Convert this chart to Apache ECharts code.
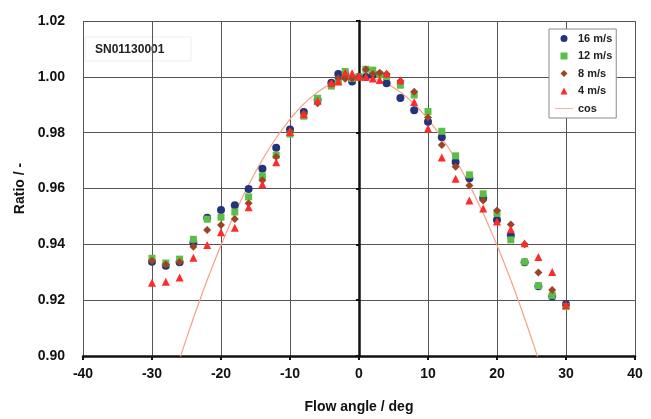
<!DOCTYPE html>
<html>
<head>
<meta charset="utf-8">
<script src="https://cdn.jsdelivr.net/npm/echarts@6/dist/echarts.min.js"></script>
<style>
    html, body { margin: 0; padding: 0; background: #fff; }
    #chart { width: 651px; height: 419px; }
</style>
</head>
<body>
<div id="chart"></div>
<script>
const angles = [-30, -28, -26, -24, -22, -20, -18, -16, -14, -12, -10, -8, -6, -4, -3, -2, -1, 0, 1, 2, 3, 4, 6, 8, 10, 12, 14, 16, 18, 20, 22, 24, 26, 28, 30];

const v16 = [0.9338, 0.9323, 0.9336, 0.9406, 0.9495, 0.9523, 0.9540, 0.9598, 0.9671, 0.9746, 0.9811, 0.9874, 0.9918, 0.9979, 1.0010, 1.0012, 0.9983, 1.0000, 0.9999, 1.0007, 1.0008, 0.9977, 0.9924, 0.9880, 0.9839, 0.9784, 0.9695, 0.9637, 0.9566, 0.9487, 0.9432, 0.9336, 0.9250, 0.9213, 0.9185];
const v12 = [0.9350, 0.9333, 0.9347, 0.9418, 0.9490, 0.9497, 0.9516, 0.9570, 0.9645, 0.9719, 0.9795, 0.9859, 0.9923, 0.9967, 0.9984, 1.0019, 0.9994, 1.0000, 1.0027, 1.0024, 1.0008, 1.0001, 0.9970, 0.9935, 0.9876, 0.9805, 0.9717, 0.9649, 0.9581, 0.9511, 0.9416, 0.9337, 0.9252, 0.9217, 0.9177];
const v8 = [0.9341, 0.9328, 0.9337, 0.9391, 0.9451, 0.9469, 0.9491, 0.9547, 0.9630, 0.9714, 0.9804, 0.9868, 0.9905, 0.9975, 0.9995, 0.9993, 0.9994, 1.0000, 1.0026, 1.0010, 1.0015, 1.0010, 0.9985, 0.9947, 0.9854, 0.9756, 0.9678, 0.9611, 0.9557, 0.9521, 0.9471, 0.9400, 0.9299, 0.9236, 0.9182];
const v4 = [0.9262, 0.9266, 0.9281, 0.9352, 0.9398, 0.9443, 0.9459, 0.9533, 0.9615, 0.9694, 0.9802, 0.9866, 0.9914, 0.9978, 0.9983, 1.0015, 1.0013, 1.0000, 1.0000, 0.9994, 0.9989, 1.0012, 0.9988, 0.9910, 0.9815, 0.9711, 0.9635, 0.9557, 0.9528, 0.9482, 0.9454, 0.9404, 0.9355, 0.9301, 0.9183];

// reference cos curve, tabulated every degree
const cosAngles = [-26, -25, -24, -23, -22, -21, -20, -19, -18, -17, -16, -15, -14, -13, -12, -11, -10, -9, -8, -7, -6, -5, -4, -3, -2, -1, 0, 1, 2, 3, 4, 5, 6, 7, 8, 9, 10, 11, 12, 13, 14, 15, 16, 17, 18, 19, 20, 21, 22, 23, 24, 25, 26];
const cosValues = [0.8988, 0.9063, 0.9135, 0.9205, 0.9272, 0.9336, 0.9397, 0.9455, 0.9511, 0.9563, 0.9613, 0.9659, 0.9703, 0.9744, 0.9781, 0.9816, 0.9848, 0.9877, 0.9903, 0.9925, 0.9945, 0.9962, 0.9976, 0.9986, 0.9994, 0.9998, 1.0000, 0.9998, 0.9994, 0.9986, 0.9976, 0.9962, 0.9945, 0.9925, 0.9903, 0.9877, 0.9848, 0.9816, 0.9781, 0.9744, 0.9703, 0.9659, 0.9613, 0.9563, 0.9511, 0.9455, 0.9397, 0.9336, 0.9272, 0.9205, 0.9135, 0.9063, 0.8988];

const xTicks = [-40, -30, -20, -10, 0, 10, 20, 30, 40];
const yTicks = [0.90, 0.92, 0.94, 0.96, 0.98, 1.00, 1.02];

const FONT = "Liberation Sans, Arial, sans-serif";
const pairs = (xs, ys) => xs.map((x, i) => [x, ys[i]]);

// legend icons as paths so they keep their aspect inside the wide icon box
const ICONS = {
    circle: "path://M5,0A5,5,0,1,1,5,10A5,5,0,1,1,5,0Z",
    rect: "path://M0,0h10v10h-10z",
    diamond: "path://M5,0L10,5L5,10L0,5Z",
    triangle: "path://M5,0L10,10L0,10Z",
    line: "path://M0,0h30v1.3h-30z"
};

function scatter(name, values, symbol, size, color) {
    return {
        name: name,
        type: "scatter",
        data: pairs(angles, values),
        symbol: symbol,
        symbolSize: size,
        itemStyle: { color: color, opacity: 1 }
    };
}

const chart = echarts.init(document.getElementById("chart"));
chart.setOption({
    animation: false,
    backgroundColor: "#fff",
    grid: { left: 83, right: 16, top: 21, bottom: 58 },
    legend: {
        orient: "vertical",
        left: 549,
        top: 29,
        padding: [3, 4, 3, 6],
        itemWidth: 18,
        itemHeight: 7,
        itemGap: 4.5,
        symbolKeepAspect: true,
        backgroundColor: "#fff",
        borderColor: "#8a8a8a",
        borderWidth: 1,
        textStyle: { fontFamily: FONT, fontSize: 11, fontWeight: "bold", color: "#222", lineHeight: 13 },
        data: [
            { name: "16 m/s", icon: ICONS.circle },
            { name: "12 m/s", icon: ICONS.rect },
            { name: "8 m/s", icon: ICONS.diamond },
            { name: "4 m/s", icon: ICONS.triangle },
            { name: "cos", icon: ICONS.line }
        ]
    },
    xAxis: {
        type: "value",
        min: xTicks[0],
        max: xTicks[xTicks.length - 1],
        interval: 10,
        name: "Flow angle / deg",
        nameLocation: "middle",
        nameGap: 44,
        nameTextStyle: { fontFamily: FONT, fontSize: 14, fontWeight: "bold", color: "#111" },
        axisLine: { onZero: false, lineStyle: { color: "#111", width: 2.5 } },
        axisTick: { show: true, length: 4, lineStyle: { color: "#111", width: 2 } },
        axisLabel: { fontFamily: FONT, fontSize: 14, fontWeight: "bold", color: "#111", margin: 11 },
        splitLine: { show: true, lineStyle: { color: "#555", width: 1 } }
    },
    yAxis: [{
        type: "value",
        min: yTicks[0],
        max: yTicks[yTicks.length - 1],
        interval: 0.02,
        name: "Ratio / -",
        nameLocation: "middle",
        nameGap: 46,
        nameTextStyle: { fontFamily: FONT, fontSize: 14, fontWeight: "bold", color: "#111" },
        axisLine: { show: false, onZero: false },
        axisTick: { show: false },
        axisLabel: {
            fontFamily: FONT, fontSize: 14, fontWeight: "bold", color: "#111", margin: 18,
            formatter: (v) => v.toFixed(2)
        },
        splitLine: { show: true, lineStyle: { color: "#555", width: 1 } }
    }, {
        type: "value",
        min: yTicks[0],
        max: yTicks[yTicks.length - 1],
        interval: 0.02,
        position: "left",
        axisLine: { show: true, onZero: true, lineStyle: { color: "#111", width: 2.5 } },
        axisTick: { show: true, length: 3, lineStyle: { color: "#111", width: 2 } },
        axisLabel: { show: false },
        splitLine: { show: false }
    }],
    graphic: [{
        type: "group",
        z: 100,
        children: [{
            type: "rect",
            shape: { x: 85, y: 37, width: 106, height: 24 },
            style: { fill: "#fff", stroke: "#eeeeee", lineWidth: 1 }
        }, {
            type: "text",
            x: 95,
            y: 50,
            style: {
                text: "SN01130001",
                font: "bold 12px " + FONT,
                fill: "#222",
                verticalAlign: "middle"
            }
        }]
    }],
    series: [
        scatter("16 m/s", v16, "circle", 8, "#25337f"),
        scatter("12 m/s", v12, "rect", 7, "#5cbf45"),
        scatter("8 m/s", v8, "diamond", 8, "#9c4424"),
        scatter("4 m/s", v4, "triangle", 8, "#ff2a2a"),
        {
            name: "cos",
            type: "line",
            data: pairs(cosAngles, cosValues),
            symbol: "none",
            smooth: true,
            clip: true,
            z: 1,
            lineStyle: { color: "#f6a187", width: 1.2 },
            itemStyle: { color: "#f6a187" }
        }
    ]
});
</script>
</body>
</html>
